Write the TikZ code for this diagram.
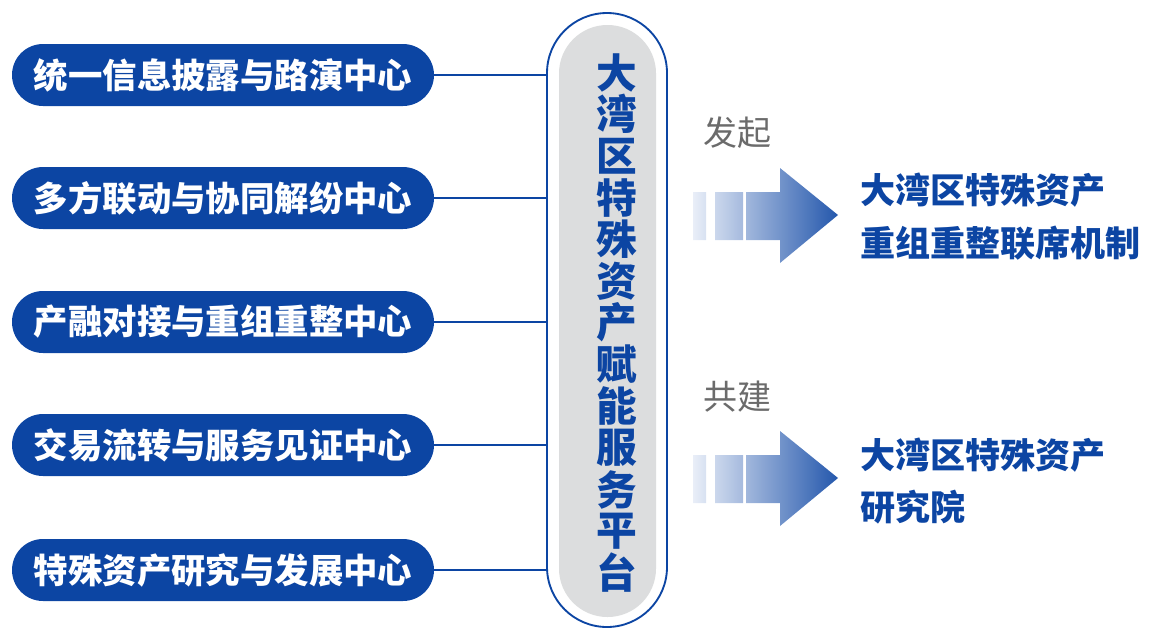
\documentclass[tikz,border=0pt]{standalone}
\usepackage{fontspec}
\newfontfamily\cjk{Noto Sans CJK SC}
\definecolor{deepblue}{HTML}{0C45A3}
\definecolor{hubgray}{HTML}{DCDDDE}
\definecolor{labelgray}{HTML}{6B6B6B}
\definecolor{fadeblue}{HTML}{E9EEF8}
\tikzset{
  unit/.style={draw=none, fill=deepblue, rounded corners=23.25pt, minimum width=316.5pt,
    minimum height=46.5pt, inner sep=0pt, text=white, font=\cjk\bfseries\fontsize{25.8}{30}\selectfont},
  link/.style={draw=deepblue, line width=1.4pt},
  glyph/.style={inner sep=0pt, text=deepblue, font=\cjk\bfseries\fontsize{30.5}{33}\selectfont},
  result/.style={anchor=west, align=left, inner sep=0pt, text=deepblue,
    font=\cjk\bfseries\fontsize{26.3}{39.5}\selectfont},
  verb/.style={anchor=west, inner sep=0pt, text=labelgray, font=\cjk\fontsize{25.5}{30}\selectfont},
  flow/.style={left color=fadeblue, right color=deepblue!90!white}
}
\begin{document}
\begin{tikzpicture}[x=0.75pt,y=-0.75pt]
\useasboundingbox (0,0) rectangle (1159,636);
\node[draw=deepblue, line width=1.4pt, fill=white, rounded corners=45pt, minimum width=90pt,
  minimum height=460.5pt, inner sep=0pt] (platform) at (607,320) {};
\node[fill=hubgray, rounded corners=36.3pt, minimum width=72.75pt, minimum height=444pt,
  inner sep=0pt] (core) at (607.5,321) {};
\foreach \ch [count=\i from 0] in {大,湾,区,特,殊,资,产,赋,能,服,务,平,台}
  \node[glyph] (title\i) at (617,72.5+41.7*\i) {\ch};

\node[unit] (disclose) at (223,75) {统一信息披露与路演中心};
\node[unit] (mediate) at (223,198) {多方联动与协同解纷中心};
\node[unit] (restruct) at (223,322) {产融对接与重组重整中心};
\node[unit] (trade) at (223,445) {交易流转与服务见证中心};
\node[unit] (research) at (223,570) {特殊资产研究与发展中心};

\foreach \n in {disclose,mediate,restruct,trade,research}
  \draw[link] (\n.east) -- (\n.east -| platform.west);

\path[flow] (693,192) rectangle (706,240) (715,192) rectangle (743,240)
  (746,192) -- (780,192) -- (780,168) -- (838,215) -- (780,263) -- (780,240) -- (746,240) -- cycle;
\path[flow] (693,455) rectangle (706,503) (715,455) rectangle (743,503)
  (746,455) -- (780,455) -- (780,431) -- (838,478) -- (780,526) -- (780,503) -- (746,503) -- cycle;

\node[verb] (launch) at (703,133) {发起};
\node[verb] (build) at (703,397) {共建};
\node[result] (council) at (860,216.5) {大湾区特殊资产\\重组重整联席机制};
\node[result] (institute) at (860,481) {大湾区特殊资产\\研究院};
\end{tikzpicture}
\end{document}
